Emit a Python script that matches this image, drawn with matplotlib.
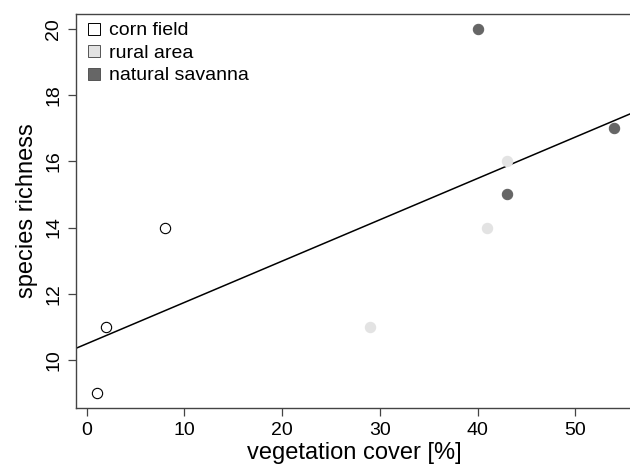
import numpy as np
import matplotlib
matplotlib.use("Agg")
import matplotlib.pyplot as plt
from matplotlib.lines import Line2D

plt.rcParams["font.family"] = ["Liberation Sans", "DejaVu Sans"]

groups = ["corn field", "rural area", "natural savanna"]
cover = {
    "corn field": [1, 2, 8],
    "rural area": [29, 41, 43],
    "natural savanna": [40, 43, 54],
}
richness = {
    "corn field": [9, 11, 14],
    "rural area": [11, 14, 16],
    "natural savanna": [20, 15, 17],
}
face = {"corn field": "white", "rural area": "#e3e3e3", "natural savanna": "#666666"}
edge = {"corn field": "black", "rural area": "#e3e3e3", "natural savanna": "#666666"}

fig = plt.figure(figsize=(6.3, 4.71), dpi=100)
ax = fig.add_axes([76 / 630, 63 / 471, 556 / 630, 394 / 471])

for g in groups:
    ax.scatter(cover[g], richness[g], s=55, facecolor=face[g], edgecolor=edge[g],
               linewidths=0.8, zorder=3)

# linear fit over all sites
all_x = np.concatenate([cover[g] for g in groups])
all_y = np.concatenate([richness[g] for g in groups])
slope, intercept = np.polyfit(all_x, all_y, 1)
xl = np.array([-1.1, 56])
ax.plot(xl, intercept + slope * xl, color="black", lw=1.1, zorder=2)

ax.set_xlim(-1.1, 55.8)
ax.set_ylim(8.55, 20.45)
ax.set_xticks([0, 10, 20, 30, 40, 50])
ax.set_yticks([10, 12, 14, 16, 18, 20])
ax.tick_params(labelsize=14, length=6, width=0.9, color="#444444", pad=4)
for lab in ax.get_yticklabels():
    lab.set_rotation(90)
    lab.set_va("center")
for s in ["left", "bottom", "top"]:
    ax.spines[s].set_color("#444444")
    ax.spines[s].set_linewidth(1.0)
ax.spines["right"].set_visible(False)

ax.set_xlabel("vegetation cover [%]", fontsize=17, labelpad=2)
ax.set_ylabel("species richness", fontsize=17, labelpad=5)

handles = [Line2D([], [], marker="s", ls="", markersize=8,
                  markerfacecolor=face[g], markeredgecolor="black" if g == "corn field" else "#555555",
                  markeredgewidth=0.7, label=g) for g in groups]
ax.legend(handles=handles, loc="upper left", frameon=False, fontsize=14,
          handletextpad=0.3, borderaxespad=0.1, labelspacing=0.25, handlelength=1.0,
          borderpad=0.3)

fig.savefig("out.png", dpi=100)
